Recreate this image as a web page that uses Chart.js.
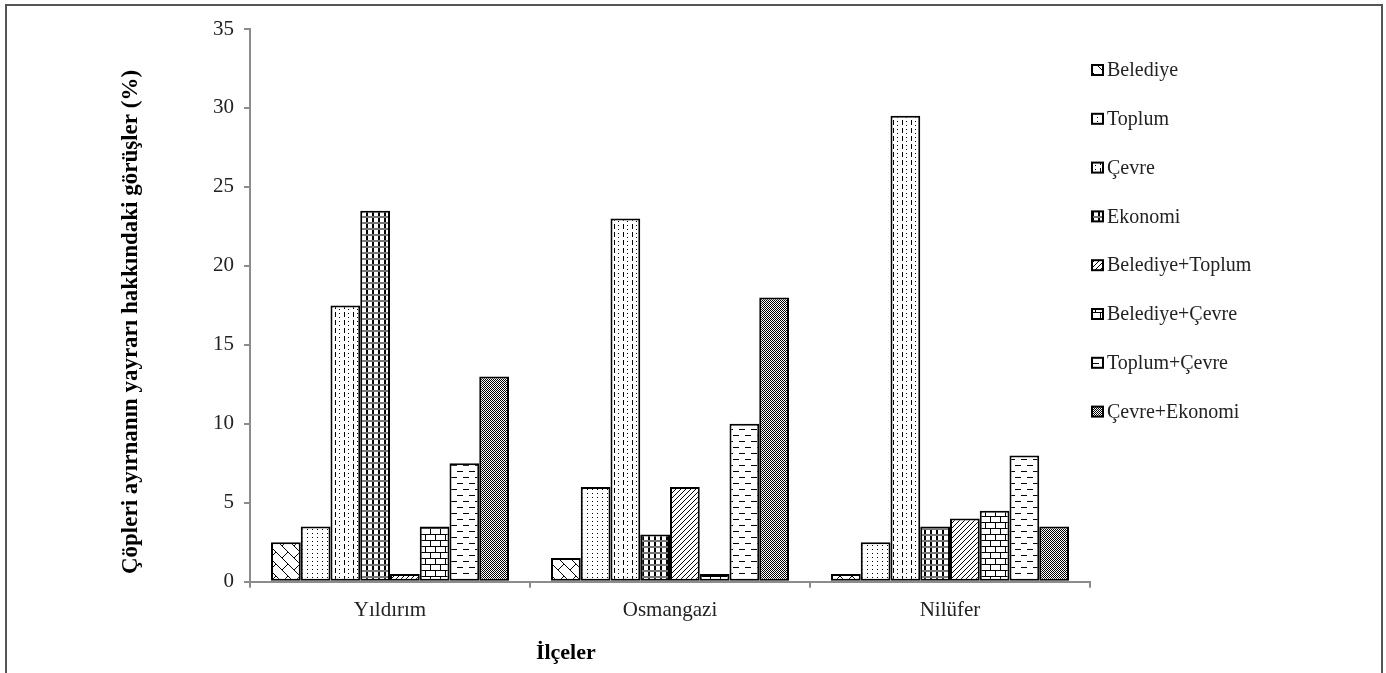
<!DOCTYPE html>
<html lang="tr">
<head>
<meta charset="utf-8">
<title>Çöpleri ayırmanın yararı - ilçeler</title>
<script src="https://cdn.jsdelivr.net/npm/chart.js@4.4.1/dist/chart.umd.min.js"></script>
<style>
    html, body { margin: 0; padding: 0; background: #fff; }
    #frame {
        position: absolute; left: 5px; top: 4px; width: 1378px; height: 700px;
        box-sizing: border-box; border: 2px solid #555; border-bottom: none;
    }
    #chart { position: absolute; left: 0; top: 0; }
</style>
</head>
<body>
<div id="frame"></div>
<canvas id="chart" width="1386" height="673"></canvas>
<script>
const districts = ['Yıldırım', 'Osmangazi', 'Nilüfer'];
const seriesNames = ['Belediye', 'Toplum', 'Çevre', 'Ekonomi', 'Belediye+Toplum', 'Belediye+Çevre', 'Toplum+Çevre', 'Çevre+Ekonomi'];

// values per series, in district order
const belediye = [2.5, 1.5, 0.5];
const toplum = [3.5, 6, 2.5];
const cevre = [17.5, 23, 29.5];
const ekonomi = [23.5, 3, 3.5];
const belediyeToplum = [0.5, 6, 4];
const belediyeCevre = [3.5, 0.5, 4.5];
const toplumCevre = [7.5, 10, 8];
const cevreEkonomi = [13, 18, 3.5];

const yTicks = [0, 5, 10, 15, 20, 25, 30, 35];
const yTitle = 'Çöpleri ayırnanın yayrarı hakkındaki görüşler (%)';
const xTitle = 'İlçeler';

const canvas = document.getElementById('chart');
const mainCtx = canvas.getContext('2d');

// small black & white fill patterns, like the old office hatch fills
function makePattern(w, h, draw) {
    const c = document.createElement('canvas');
    c.width = w;
    c.height = h;
    const g = c.getContext('2d');
    g.fillStyle = '#fff';
    g.fillRect(0, 0, w, h);
    g.fillStyle = '#000';
    draw(g);
    return mainCtx.createPattern(c, 'repeat');
}
const px = (g, x, y) => g.fillRect(x, y, 1, 1);

const patterns = [
    makePattern(12, 12, g => {   // diagonal brick
        for (let i = 0; i < 12; i++) px(g, i, i);
        for (let i = 0; i < 6; i++) px(g, 6 + i, 5 - i);
    }),
    makePattern(5, 4, g => px(g, 2, 1)),   // dots
    makePattern(9, 8, g => {   // dashed vertical
        g.fillRect(2, 0, 1, 5);
        px(g, 6, 1);
        px(g, 6, 5);
    }),
    makePattern(6, 6, g => {   // plaid
        g.fillStyle = '#777';
        g.fillRect(0, 0, 6, 2);
        g.fillStyle = '#000';
        g.fillRect(0, 2, 2, 4);
    }),
    makePattern(5, 5, g => {   // thin forward diagonal
        for (let i = 0; i < 5; i++) px(g, i, 4 - i);
    }),
    makePattern(10, 12, g => {   // horizontal brick
        g.fillRect(0, 0, 10, 1);
        g.fillRect(0, 0, 1, 6);
        g.fillRect(0, 6, 10, 1);
        g.fillRect(5, 6, 1, 6);
    }),
    makePattern(12, 12, g => {   // dashed horizontal
        g.fillRect(1, 3, 6, 1);
        g.fillRect(7, 9, 5, 1);
        px(g, 0, 9);
    }),
    makePattern(2, 2, g => {   // fine checker
        px(g, 0, 0);
        px(g, 1, 1);
    })
];

const seriesValues = [belediye, toplum, cevre, ekonomi, belediyeToplum, belediyeCevre, toplumCevre, cevreEkonomi];

const datasets = seriesNames.map((name, i) => ({
    label: name,
    data: seriesValues[i],
    backgroundColor: patterns[i],
    borderColor: '#000',
    borderWidth: 2,
    borderSkipped: false,
    categoryPercentage: 0.85,
    barPercentage: 1.0
}));

const serif = '"Liberation Serif", "Times New Roman", serif';

// legend on the right + both axis titles, placed relative to the plot area
const sideLegend = {
    id: 'sideLegend',
    afterDraw(chart) {
        const { ctx, chartArea } = chart;
        ctx.save();
        ctx.font = '20px ' + serif;
        ctx.textBaseline = 'middle';
        ctx.textAlign = 'left';
        chart.data.datasets.forEach((ds, i) => {
            const x = chartArea.right + 2;
            const y = chartArea.top + 41 + i * 48.8;
            ctx.fillStyle = ds.backgroundColor;
            ctx.fillRect(x, y - 5, 11, 10);
            ctx.strokeStyle = '#000';
            ctx.lineWidth = 2;
            ctx.strokeRect(x, y - 5, 11, 10);
            ctx.fillStyle = '#222';
            ctx.fillText(ds.label, x + 15, y + 1);
        });

        ctx.font = 'bold 22px ' + serif;
        ctx.fillStyle = '#000';
        ctx.textAlign = 'center';
        ctx.fillText(xTitle, chartArea.left + (chartArea.right - chartArea.left) * 0.376, chartArea.bottom + 72);

        ctx.font = 'bold 23px ' + serif;
        ctx.translate(chartArea.left - 119, chartArea.top + 293);
        ctx.rotate(-Math.PI / 2);
        ctx.fillText(yTitle, 0, 0);
        ctx.restore();
    }
};

new Chart(canvas, {
    type: 'bar',
    data: { labels: districts, datasets },
    plugins: [sideLegend],
    options: {
        responsive: false,
        animation: false,
        devicePixelRatio: 1,
        layout: { padding: { left: 203, right: 296, top: 29, bottom: 40 } },
        plugins: {
            legend: { display: false },
            tooltip: { enabled: false }
        },
        scales: {
            x: {
                grid: { offset: true, drawOnChartArea: false, drawTicks: true, tickLength: 6, color: '#8c8c8c', lineWidth: 2 },
                border: { color: '#8c8c8c', width: 2 },
                ticks: { color: '#222', padding: 10, font: { family: serif, size: 21 } }
            },
            y: {
                min: 0,
                max: 35,
                afterBuildTicks: scale => { scale.ticks = yTicks.map(v => ({ value: v })); },
                grid: { drawOnChartArea: false, drawTicks: true, tickLength: 6, color: '#8c8c8c', lineWidth: 2 },
                border: { color: '#8c8c8c', width: 2 },
                ticks: { color: '#222', padding: 10, font: { family: serif, size: 21 } }
            }
        }
    }
});
</script>
</body>
</html>
